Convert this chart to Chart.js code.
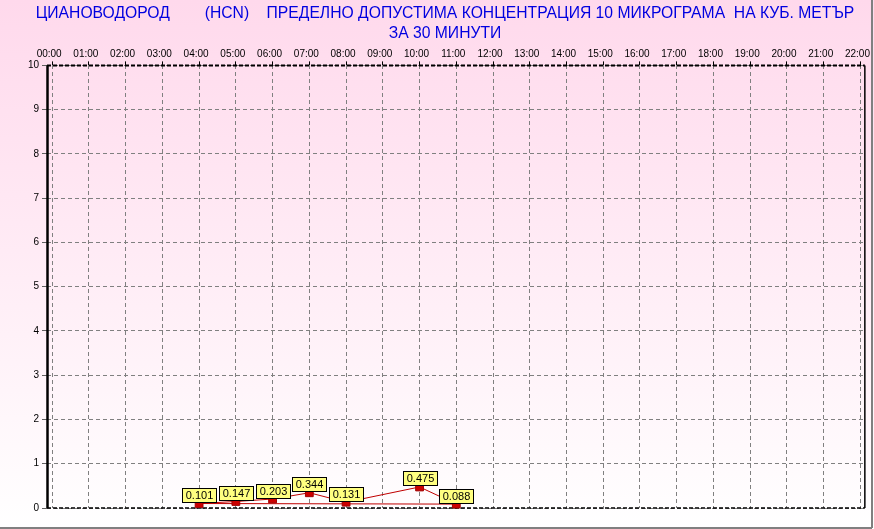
<!DOCTYPE html>
<html>
<head>
<meta charset="utf-8">
<style>
html,body{margin:0;padding:0;background:#fff;}
canvas{display:block;}
</style>
<script src="https://cdn.jsdelivr.net/npm/chart.js@4/dist/chart.umd.min.js"></script>
</head>
<body>
<canvas id="c" width="874" height="529"></canvas>
<script>
// ---- data ----
const titleLines = [
  'ЦИАНОВОДОРОД        (HCN)    ПРЕДЕЛНО ДОПУСТИМА КОНЦЕНТРАЦИЯ 10 МИКРОГРАМА  НА КУБ. МЕТЪР',
  'ЗА 30 МИНУТИ'
];
const xTickLabels = ['00:00','01:00','02:00','03:00','04:00','05:00','06:00','07:00','08:00','09:00','10:00',
  '11:00','12:00','13:00','14:00','15:00','16:00','17:00','18:00','19:00','20:00','21:00','22:00'];
const yTickValues = [0,1,2,3,4,5,6,7,8,9,10];
const times  = ['04:00','05:00','06:00','07:00','08:00','10:00','11:00'];
const values = [0.101, 0.147, 0.203, 0.344, 0.131, 0.475, 0.088];

const FONT = "'Liberation Sans', Arial, sans-serif";
const toHour = t => { const p = t.split(':'); return +p[0] + (+p[1]) / 60; };
const points = times.map((t, i) => ({x: toHour(t), y: values[i]}));
const closing = [points[points.length - 1], points[0]];

const bgPlugin = {
  id: 'bg',
  beforeDraw(chart) {
    const {ctx, width, height} = chart;
    const g = ctx.createLinearGradient(0, 0, 0, height);
    g.addColorStop(0, '#FFD9EC');
    g.addColorStop(1, '#FFFFFF');
    ctx.save();
    ctx.fillStyle = g;
    ctx.fillRect(0, 0, width, height);
    ctx.restore();
  }
};

const framePlugin = {
  id: 'frame',
  beforeDatasetsDraw(chart) {
    const {ctx, chartArea: a, width, height} = chart;
    ctx.save();
    ctx.strokeStyle = '#000';
    ctx.lineWidth = 2.5;
    ctx.beginPath(); ctx.moveTo(a.left + 0.5, a.top); ctx.lineTo(a.left + 0.5, a.bottom); ctx.stroke();
    ctx.lineWidth = 2;
    ctx.setLineDash([4, 2]);
    ctx.beginPath(); ctx.moveTo(a.left, a.top); ctx.lineTo(a.right, a.top); ctx.stroke();
    ctx.lineWidth = 1.5;
    ctx.setLineDash([4, 2]);
    ctx.beginPath(); ctx.moveTo(a.left, a.bottom); ctx.lineTo(a.right, a.bottom); ctx.stroke();
    ctx.setLineDash([]);
    ctx.lineWidth = 1.5;
    ctx.beginPath(); ctx.moveTo(a.right, a.top); ctx.lineTo(a.right, a.bottom); ctx.stroke();
    ctx.strokeStyle = '#808080';
    ctx.lineWidth = 2;
    ctx.beginPath();
    ctx.moveTo(width - 2, 0); ctx.lineTo(width - 2, height - 1);
    ctx.moveTo(0, height - 1); ctx.lineTo(width - 2, height - 1);
    ctx.stroke();
    ctx.restore();
  }
};

const labelPlugin = {
  id: 'valueLabels',
  afterDatasetsDraw(chart) {
    const {ctx} = chart;
    const meta = chart.getDatasetMeta(0);
    ctx.save();
    ctx.font = '11px ' + FONT;
    ctx.textAlign = 'center';
    ctx.textBaseline = 'middle';
    meta.data.forEach((el, i) => {
      const txt = values[i].toFixed(3);
      const w = Math.round(ctx.measureText(txt).width + 6);
      const h = 14;
      const left = Math.round(el.x - w / 2) + 0.5;
      const bottom = Math.round(el.y - 1.5) + 0.5;
      const top = bottom - h;
      ctx.fillStyle = '#FFFF80';
      ctx.fillRect(left, top, w, h);
      ctx.strokeStyle = '#000';
      ctx.lineWidth = 1;
      ctx.strokeRect(left, top, w, h);
      ctx.fillStyle = '#000';
      ctx.fillText(txt, left + w / 2, top + h / 2 + 0.5);
    });
    ctx.restore();
  }
};

new Chart(document.getElementById('c'), {
  type: 'line',
  data: {
    datasets: [
      {
        data: points,
        borderColor: '#C00000',
        borderWidth: 1,
        tension: 0,
        pointStyle: 'rect',
        pointRadius: 5.5,
        pointBackgroundColor: '#CC0000',
        pointBorderColor: '#A00000',
        pointBorderWidth: 1,
        clip: false
      },
      {
        data: closing,
        borderColor: '#C00000',
        borderWidth: 1,
        tension: 0,
        pointRadius: 0,
        clip: false
      }
    ]
  },
  options: {
    responsive: false,
    animation: false,
    devicePixelRatio: 1,
    layout: {padding: {left: 25, right: 9, top: 0, bottom: 21}},
    plugins: {
      legend: {display: false},
      tooltip: {enabled: false},
      title: {
        display: true,
        text: titleLines,
        color: '#0000E0',
        font: {family: FONT, size: 15.7, weight: 'normal', lineHeight: 1.27},
        padding: {top: 3.5, bottom: 0}
      }
    },
    scales: {
      x: {
        type: 'linear',
        position: 'top',
        min: -0.14,
        max: 22.12,
        afterBuildTicks: s => { s.ticks = xTickLabels.map((_, i) => ({value: i})); },
        afterFit: s => { s.height = 22; },
        ticks: {
          callback: (v, i) => xTickLabels[i],
          font: {family: FONT, size: 10},
          color: '#000',
          padding: 1,
          labelOffset: -3,
          maxRotation: 0,
          autoSkip: false
        },
        grid: {color: '#808080', lineWidth: 1, tickLength: 4, tickColor: '#000'},
        border: {display: false, dash: [4, 3]}
      },
      y: {
        min: 0,
        max: 10,
        afterBuildTicks: s => { s.ticks = yTickValues.map(v => ({value: v})); },
        afterFit: s => { s.width = 22; },
        ticks: {
          font: {family: FONT, size: 10},
          color: '#000',
          padding: 3
        },
        grid: {color: '#808080', lineWidth: 1, tickLength: 5, tickColor: '#606060'},
        border: {display: false, dash: [4, 3]}
      }
    }
  },
  plugins: [bgPlugin, framePlugin, labelPlugin]
});
</script>
</body>
</html>
